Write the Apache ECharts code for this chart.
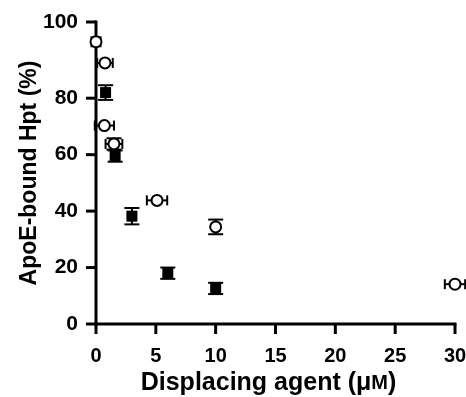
<!DOCTYPE html>
<html>
<head>
<meta charset="utf-8">
<script src="https://cdn.jsdelivr.net/npm/echarts@6/dist/echarts.min.js"></script>
<style>
html,body{margin:0;padding:0;background:#fff;}
#c{width:466px;height:397px;}
</style>
</head>
<body>
<div id="c"></div>
<script>
// Filled squares
const squareX = [0, 0.8, 1.6, 3, 6, 10];
const squareY = [100, 82, 59.5, 38.2, 18, 12.6];
const squareYErr = [0, 2.6, 2, 2.9, 2, 2];
const squareXErr = [0, 0, 0, 0, 0, 0];
// Open circles
const circleX = [0, 0.75, 0.7, 1.5, 5.1, 10, 30];
const circleY = [100, 92.5, 70.3, 63.8, 43.8, 34.4, 14.1];
const circleXErr = [0, 0.65, 0.8, 0.7, 0.85, 0, 0.85];
const circleYErr = [0, 0, 0, 2, 0, 2.6, 0];
// Axes
const xTicks = [0, 5, 10, 15, 20, 25, 30];
const xMax = 30;
const yTickValues = [0, 20, 40, 60, 80, 107];
const yTickLabels = ['0', '20', '40', '60', '80', '100'];
const yMax = 107;

const FONT = '"Liberation Sans", Arial, sans-serif';

function errData(xs, ys, exs, eys) {
  return xs.map((x, i) => [x, ys[i], exs[i], eys[i]]);
}

function seg(x1, y1, x2, y2, w) {
  return { type: 'line', shape: { x1: x1, y1: y1, x2: x2, y2: y2 }, style: { stroke: '#000', lineWidth: w || 2 } };
}

function renderErr(params, api) {
  const x = api.value(0), y = api.value(1), ex = api.value(2), ey = api.value(3);
  const cap = 7.5, hc = 5;
  const v1 = api.coord([x, y - ey]);
  const v2 = api.coord([x, y + ey]);
  const h1 = api.coord([x - ex, y]);
  const h2 = api.coord([x + ex, y]);
  const children = [seg(v1[0], v1[1], v2[0], v2[1]), seg(h1[0], h1[1], h2[0], h2[1])];
  if (ey > 0) {
    children.push(seg(v1[0] - cap, v1[1], v1[0] + cap, v1[1]));
    children.push(seg(v2[0] - cap, v2[1], v2[0] + cap, v2[1]));
  }
  if (ex > 0) {
    children.push(seg(h1[0], h1[1] - hc, h1[0], h1[1] + hc));
    children.push(seg(h2[0], h2[1] - hc, h2[0], h2[1] + hc));
  }
  return { type: 'group', children: children };
}

// Axis frame (lines + ticks) drawn through the axes' own scales
const frameData = [[0, 0]];
function renderFrame(params, api) {
  const o = api.coord([0, 0]);
  const top = api.coord([0, yMax]);
  const right = api.coord([xMax, 0]);
  const W = 3, half = 1.5;
  const ch = [
    seg(o[0], o[1] + half, top[0], top[1] - half, W),
    seg(o[0] - half, o[1], right[0] + half, right[1], W)
  ];
  yTickValues.forEach(function (v) {
    const p = api.coord([0, v]);
    ch.push(seg(p[0] - 10, p[1], p[0], p[1], W));
  });
  xTicks.forEach(function (v) {
    const p = api.coord([v, 0]);
    ch.push(seg(p[0], p[1], p[0], p[1] + 10, W));
  });
  return { type: 'group', children: ch };
}

const chart = echarts.init(document.getElementById('c'));
chart.setOption({
  animation: false,
  backgroundColor: '#fff',
  grid: { left: 96, right: 11, top: 22, bottom: 73, outerBoundsMode: 'none' },
  xAxis: {
    type: 'value', min: 0, max: xMax, interval: 5,
    name: 'Displacing agent (μ{s|M})',
    nameLocation: 'middle', nameGap: 45,
    nameTextStyle: {
      fontFamily: FONT, fontWeight: 'bold', fontSize: 25, color: '#000',
      padding: [0, 14, 0, 0],
      rich: { s: { fontFamily: FONT, fontWeight: 'bold', fontSize: 20, color: '#000' } }
    },
    axisLine: { show: false },
    axisTick: { show: false },
    axisLabel: { fontFamily: FONT, fontWeight: 'bold', fontSize: 20, color: '#000', margin: 22 },
    splitLine: { show: false }
  },
  yAxis: {
    type: 'value', min: 0, max: yMax,
    name: 'ApoE-bound Hpt (%)',
    nameLocation: 'middle', nameGap: 55, nameMoveOverlap: false,
    nameTextStyle: { fontFamily: FONT, fontWeight: 'bold', fontSize: 23, color: '#000' },
    axisLine: { show: false },
    axisTick: { show: false },
    axisLabel: {
      fontFamily: FONT, fontWeight: 'bold', fontSize: 21, color: '#000', margin: 18,
      customValues: yTickValues,
      formatter: function (v) {
        const i = yTickValues.indexOf(v);
        return i >= 0 ? yTickLabels[i] : String(v);
      }
    },
    splitLine: { show: false }
  },
  series: [
    {
      type: 'custom', renderItem: renderFrame, clip: false, z: 1, silent: true,
      data: frameData, encode: { x: 0, y: 1 }
    },
    {
      type: 'custom', renderItem: renderErr, clip: false, z: 2,
      data: errData(squareX, squareY, squareXErr, squareYErr),
      encode: { x: 0, y: 1 }
    },
    {
      type: 'custom', renderItem: renderErr, clip: false, z: 2,
      data: errData(circleX, circleY, circleXErr, circleYErr),
      encode: { x: 0, y: 1 }
    },
    {
      type: 'scatter', symbol: 'rect', symbolSize: 11, clip: false, z: 3,
      itemStyle: { color: '#000', opacity: 1 },
      data: squareX.map((x, i) => [x, squareY[i]])
    },
    {
      type: 'scatter', symbol: 'circle', symbolSize: 11, clip: false, z: 4,
      itemStyle: { color: '#fff', borderColor: '#000', borderWidth: 2, opacity: 1 },
      data: circleX.map((x, i) => [x, circleY[i]])
    }
  ]
});
</script>
</body>
</html>
